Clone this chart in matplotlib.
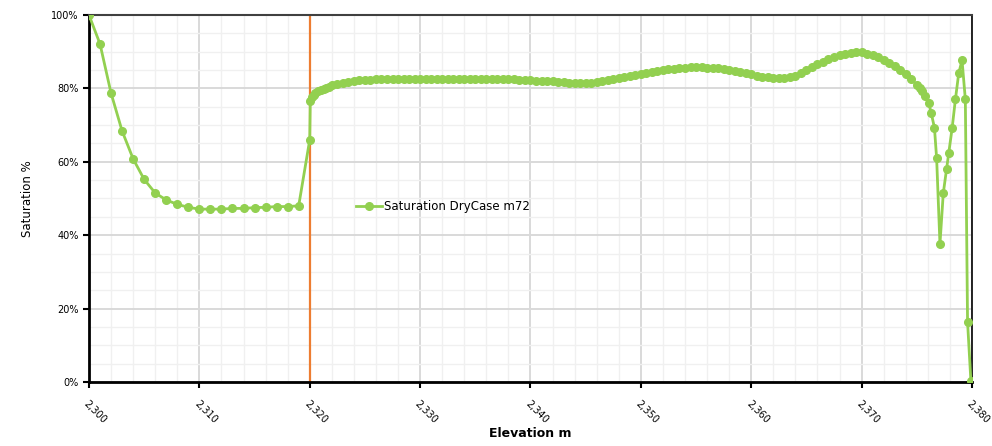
import matplotlib.pyplot as plt
from matplotlib.ticker import MultipleLocator, FuncFormatter

# Readings left of the marker line (one per metre)
elev_low = [2300, 2301, 2302, 2303, 2304, 2305, 2306, 2307, 2308, 2309,
            2310, 2311, 2312, 2313, 2314, 2315, 2316, 2317, 2318, 2319, 2320]
sat_low = [100.0, 92.1, 78.7, 68.4, 60.8, 55.2, 51.5, 49.6, 48.4, 47.6,
           47.1, 47.1, 47.1, 47.3, 47.3, 47.5, 47.6, 47.8, 47.8, 48.0, 66.0]

# Densely sampled stretch
elev_mid = [2320.05, 2320.2, 2320.35, 2320.5, 2320.75, 2321.0, 2321.25, 2321.5, 2321.75,
            2322.0, 2322.5, 2323.0, 2323.5, 2324.0, 2324.5, 2325.0, 2325.5, 2326.0, 2326.5,
            2327.0, 2327.5, 2328.0, 2328.5, 2329.0, 2329.5, 2330.0, 2330.5, 2331.0, 2331.5,
            2332.0, 2332.5, 2333.0, 2333.5, 2334.0, 2334.5, 2335.0, 2335.5, 2336.0, 2336.5,
            2337.0, 2337.5, 2338.0, 2338.5, 2339.0, 2339.5, 2340.0, 2340.5, 2341.0, 2341.5,
            2342.0, 2342.5, 2343.0, 2343.5, 2344.0, 2344.5, 2345.0, 2345.5, 2346.0, 2346.5,
            2347.0, 2347.5, 2348.0, 2348.5, 2349.0, 2349.5, 2350.0, 2350.5, 2351.0, 2351.5,
            2352.0, 2352.5, 2353.0, 2353.5, 2354.0, 2354.5, 2355.0, 2355.5, 2356.0, 2356.5,
            2357.0, 2357.5, 2358.0, 2358.5, 2359.0, 2359.5, 2360.0, 2360.5, 2361.0, 2361.5,
            2362.0, 2362.5, 2363.0, 2363.5, 2364.0, 2364.5, 2365.0, 2365.5, 2366.0, 2366.5,
            2367.0, 2367.5, 2368.0, 2368.5, 2369.0, 2369.5, 2370.0, 2370.5, 2371.0, 2371.5,
            2372.0, 2372.5, 2373.0, 2373.5, 2374.0, 2374.5, 2375.0, 2375.25, 2375.5, 2375.75]
sat_mid = [76.5, 77.6, 78.2, 78.7, 79.2, 79.6, 79.9, 80.2, 80.5,
           80.8, 81.2, 81.5, 81.8, 82.0, 82.2, 82.3, 82.4, 82.5, 82.5,
           82.6, 82.6, 82.6, 82.6, 82.6, 82.6, 82.6, 82.6, 82.6, 82.6,
           82.6, 82.6, 82.6, 82.6, 82.6, 82.6, 82.6, 82.6, 82.6, 82.6,
           82.6, 82.6, 82.5, 82.5, 82.4, 82.3, 82.2, 82.1, 82.0, 82.0,
           81.9, 81.8, 81.7, 81.6, 81.5, 81.4, 81.5, 81.6, 81.7, 81.9,
           82.2, 82.5, 82.8, 83.1, 83.4, 83.7, 84.0, 84.3, 84.5, 84.8,
           85.0, 85.2, 85.4, 85.5, 85.6, 85.7, 85.7, 85.7, 85.6, 85.6,
           85.5, 85.3, 85.0, 84.7, 84.4, 84.1, 83.8, 83.5, 83.2, 83.0,
           82.8, 82.8, 82.9, 83.1, 83.5, 84.2, 85.0, 85.8, 86.6, 87.3,
           88.0, 88.5, 89.0, 89.4, 89.7, 89.8, 89.8, 89.5, 89.0, 88.5,
           87.8, 87.0, 86.0, 85.0, 83.8, 82.5, 81.0, 80.1, 79.2, 78.0]

# Sparse tail near the top of the range
elev_tail = [2376.1, 2376.3, 2376.6, 2376.8, 2377.1, 2377.4, 2377.7, 2377.9,
             2378.2, 2378.5, 2378.8, 2379.1, 2379.4, 2379.6, 2379.9]
sat_tail = [75.9, 73.4, 69.3, 60.9, 37.6, 51.4, 58.0, 62.5,
            69.1, 77.0, 84.1, 87.7, 77.0, 16.4, 0.4]

elevation = elev_low + elev_mid + elev_tail
saturation = sat_low + sat_mid + sat_tail
marker_elev = 2320

green = '#92D050'
orange = '#ED7D31'

fig = plt.figure(figsize=(9.92, 4.46), dpi=100)
ax = fig.add_axes([0.0897, 0.1435, 0.8901, 0.8229])

ax.plot(elevation, saturation, color=green, lw=2, marker='o', markersize=5.5,
        label='Saturation DryCase m72', zorder=3)
ax.axvline(marker_elev, color=orange, lw=1.6, zorder=2)

ax.set_xlim(2300, 2380)
ax.set_ylim(0, 100)
ax.xaxis.set_major_locator(MultipleLocator(10))
ax.xaxis.set_minor_locator(MultipleLocator(2))
ax.yaxis.set_major_locator(MultipleLocator(20))
ax.yaxis.set_minor_locator(MultipleLocator(5))
ax.xaxis.set_major_formatter(FuncFormatter(lambda v, p: f'{v:,.0f}'))
ax.yaxis.set_major_formatter(FuncFormatter(lambda v, p: f'{v:.0f}%'))

ax.grid(which='major', color='#d9d9d9', lw=1.4)
ax.grid(which='minor', color='#f0f0f0', lw=1)
ax.set_axisbelow(True)

for lab in ax.get_xticklabels():
    lab.set_rotation(-45)
    lab.set_ha('left')
    lab.set_rotation_mode('anchor')
ax.tick_params(axis='both', which='major', labelsize=7, length=4, width=1.5, color='black')
ax.tick_params(axis='x', which='major', pad=8)
ax.tick_params(which='minor', length=0)

ax.spines['left'].set_linewidth(2)
ax.spines['bottom'].set_linewidth(2)
ax.spines['top'].set_linewidth(1.5)
ax.spines['right'].set_linewidth(1.2)
ax.spines['top'].set_color('#404040')

ax.set_xlabel('Elevation m', fontsize=9, fontweight='bold', labelpad=1)
ax.set_ylabel('Saturation %', fontsize=8.5, labelpad=12)

ax.legend(loc='center left', bbox_to_anchor=(0.29, 0.477), frameon=False,
          fontsize=8.5, handlelength=2.2, handletextpad=0.2)

plt.savefig('out.png', dpi=100)
